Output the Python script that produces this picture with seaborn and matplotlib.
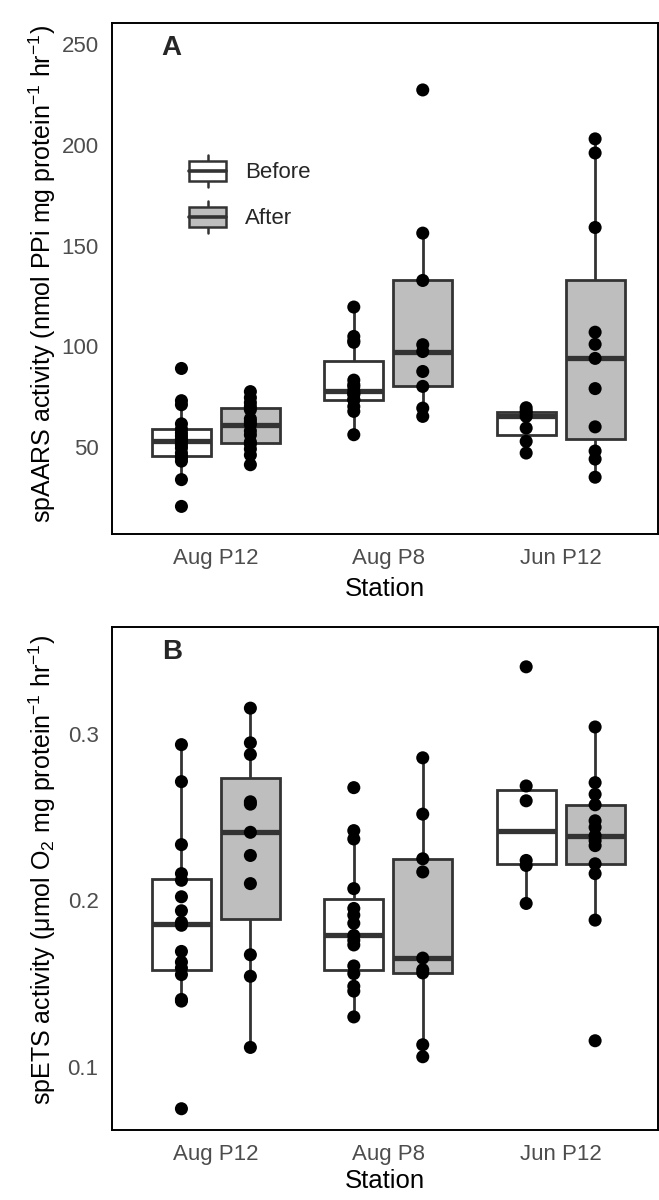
import numpy as np
import pandas as pd
import matplotlib.pyplot as plt
import seaborn as sns
from matplotlib.patches import Patch, Rectangle
from matplotlib.lines import Line2D
from matplotlib.legend_handler import HandlerBase

STATIONS = ["Aug P12", "Aug P8", "Jun P12"]
TREATMENTS = ["Before", "After"]
BOX_COLORS = {"Before": "white", "After": "#BEBEBE"}

# spAARS activity (panel A)
AARS_AUG_P12_BEFORE = [20.5, 33.8, 43.0, 44.5, 45.3, 47.0, 49.5, 51.0, 52.8, 54.0, 55.5, 57.0, 58.9, 61.5, 71.0, 73.0, 89.0]
AARS_AUG_P12_AFTER = [41.2, 46.0, 49.0, 51.5, 52.5, 56.0, 58.0, 61.1, 62.5, 64.0, 68.5, 70.0, 72.0, 74.5, 77.5]
AARS_AUG_P8_BEFORE = [56.1, 67.7, 70.1, 73.3, 73.7, 76.0, 76.5, 77.9, 80.0, 81.0, 83.2, 102.0, 102.8, 104.9, 119.5]
AARS_AUG_P8_AFTER = [65.2, 69.3, 80.1, 87.5, 97.4, 100.8, 132.7, 156.2, 227.3]
AARS_JUN_P12_BEFORE = [47.0, 52.8, 59.4, 65.2, 67.0, 68.0, 69.5]
AARS_JUN_P12_AFTER = [35.0, 44.0, 48.0, 60.0, 79.0, 94.0, 101.0, 107.0, 159.0, 196.0, 203.0]

# spETS activity (panel B)
ETS_AUG_P12_BEFORE = [0.0749, 0.1395, 0.1405, 0.1554, 0.1593, 0.1629, 0.1693, 0.1850, 0.1868, 0.1937,
                      0.2021, 0.2120, 0.2160, 0.2334, 0.2712, 0.2934]
ETS_AUG_P12_AFTER = [0.1117, 0.1544, 0.1673, 0.2100, 0.2269, 0.2408, 0.2577, 0.2591, 0.2875, 0.2945, 0.3153]
ETS_AUG_P8_BEFORE = [0.1300, 0.1455, 0.1484, 0.1560, 0.1606, 0.1732, 0.1760, 0.1789, 0.1862, 0.1911,
                     0.1951, 0.2070, 0.2368, 0.2418, 0.2676]
ETS_AUG_P8_AFTER = [0.1061, 0.1133, 0.1564, 0.1583, 0.1653, 0.2170, 0.2249, 0.2517, 0.2855]
ETS_JUN_P12_BEFORE = [0.1981, 0.2209, 0.2239, 0.2597, 0.2686, 0.3401]
ETS_JUN_P12_AFTER = [0.1157, 0.1881, 0.2160, 0.2219, 0.2328, 0.2358, 0.2388, 0.2438, 0.2477, 0.2573,
                     0.2636, 0.2706, 0.3040]


def to_long(groups, name):
    rows = []
    for (station, treatment), values in groups.items():
        for v in values:
            rows.append({"Station": station, "Treatment": treatment, name: v})
    return pd.DataFrame(rows)


aars = to_long({
    ("Aug P12", "Before"): AARS_AUG_P12_BEFORE, ("Aug P12", "After"): AARS_AUG_P12_AFTER,
    ("Aug P8", "Before"): AARS_AUG_P8_BEFORE, ("Aug P8", "After"): AARS_AUG_P8_AFTER,
    ("Jun P12", "Before"): AARS_JUN_P12_BEFORE, ("Jun P12", "After"): AARS_JUN_P12_AFTER,
}, "value")
ets = to_long({
    ("Aug P12", "Before"): ETS_AUG_P12_BEFORE, ("Aug P12", "After"): ETS_AUG_P12_AFTER,
    ("Aug P8", "Before"): ETS_AUG_P8_BEFORE, ("Aug P8", "After"): ETS_AUG_P8_AFTER,
    ("Jun P12", "Before"): ETS_JUN_P12_BEFORE, ("Jun P12", "After"): ETS_JUN_P12_AFTER,
}, "value")

sns.set_style("white")
plt.rcParams['font.family'] = ['Liberation Sans', 'DejaVu Sans']
plt.rcParams['mathtext.fontset'] = 'custom'
plt.rcParams['mathtext.rm'] = 'Liberation Sans'
plt.rcParams['mathtext.it'] = 'Liberation Sans:italic'
plt.rcParams['mathtext.bf'] = 'Liberation Sans:bold'

EDGE = "#333333"


class BoxHandler(HandlerBase):
    # legend key drawn like a small boxplot (box, median, whiskers)
    def create_artists(self, legend, orig_handle, xdescent, ydescent, width, height, fontsize, trans):
        x0, y0 = -xdescent, -ydescent
        bh = height * 0.64
        by = y0 + (height - bh) / 2
        xm = x0 + width / 2
        w1 = Line2D([xm, xm], [y0, by], color=EDGE, lw=1.8, transform=trans)
        w2 = Line2D([xm, xm], [by + bh, y0 + height], color=EDGE, lw=1.8, transform=trans)
        rect = Rectangle((x0, by), width, bh, facecolor=orig_handle.get_facecolor(),
                         edgecolor=EDGE, lw=1.8, transform=trans)
        med = Line2D([x0, x0 + width], [by + bh / 2, by + bh / 2], color=EDGE, lw=2.6, transform=trans)
        return [w1, w2, rect, med]


def draw_panel(ax, df, letter, ylabel, ylim, yticks, ylab_y, xlab_y):
    sns.boxplot(data=df, x="Station", y="value", hue="Treatment", order=STATIONS,
                hue_order=TREATMENTS, palette=BOX_COLORS, width=0.8, gap=0.145,
                linecolor=EDGE, linewidth=2.0, showcaps=False, showfliers=False,
                whis=1.5, medianprops=dict(color=EDGE, linewidth=3.8),
                legend=False, ax=ax)
    sns.stripplot(data=df, x="Station", y="value", hue="Treatment", order=STATIONS,
                  hue_order=TREATMENTS, palette={"Before": "black", "After": "black"},
                  dodge=True, jitter=False, size=9.4, linewidth=0, legend=False,
                  zorder=4, ax=ax)
    ax.set_xlim(-0.6, 2.563)
    ax.set_ylim(*ylim)
    ax.set_yticks(yticks)
    for s in ax.spines.values():
        s.set_visible(True)
        s.set_color("black")
        s.set_linewidth(1.4)
    ax.tick_params(axis="both", length=4, width=1.3, color=EDGE, labelcolor="#4D4D4D",
                   labelsize=16, direction="out", pad=6)
    ax.set_xlabel("Station", fontsize=18.5, color="black")
    ax.xaxis.set_label_coords(0.5, xlab_y)
    ax.set_ylabel(ylabel, fontsize=18, color="black")
    ax.yaxis.set_label_coords(-0.1, ylab_y)
    ax.text(0.1086, 0.951, letter, transform=ax.transAxes, fontsize=20,
            fontweight="bold", ha="center", va="center")


fig = plt.figure(figsize=(6.59, 12), dpi=100)
ax_a = fig.add_axes([0.1707, 0.555, 0.998 - 0.1707, 0.4256])
ax_b = fig.add_axes([0.1707, 0.058, 0.998 - 0.1707, 0.4195])

draw_panel(ax_a, aars, "A", r"spAARS activity (nmol PPi mg protein$^{-1}$ hr$^{-1}$)",
           (6.8, 260.4), [50, 100, 150, 200, 250], 0.51, -0.085)
draw_panel(ax_b, ets, "B", r"spETS activity (μmol O$_2$ mg protein$^{-1}$ hr$^{-1}$)",
           (0.0619, 0.364), [0.1, 0.2, 0.3], 0.517, -0.076)

handles = [Patch(facecolor=BOX_COLORS[t], edgecolor=EDGE) for t in TREATMENTS]
ax_a.legend(handles, TREATMENTS, handler_map={Patch: BoxHandler()}, loc="upper left",
            bbox_to_anchor=(189 / 659, 1 - 155 / 1200), bbox_transform=fig.transFigure,
            frameon=False, fontsize=16, handlelength=1.67, handleheight=1.85,
            labelspacing=0.62, handletextpad=0.86, borderpad=0, borderaxespad=0)

fig.savefig("out.png", dpi=100)
